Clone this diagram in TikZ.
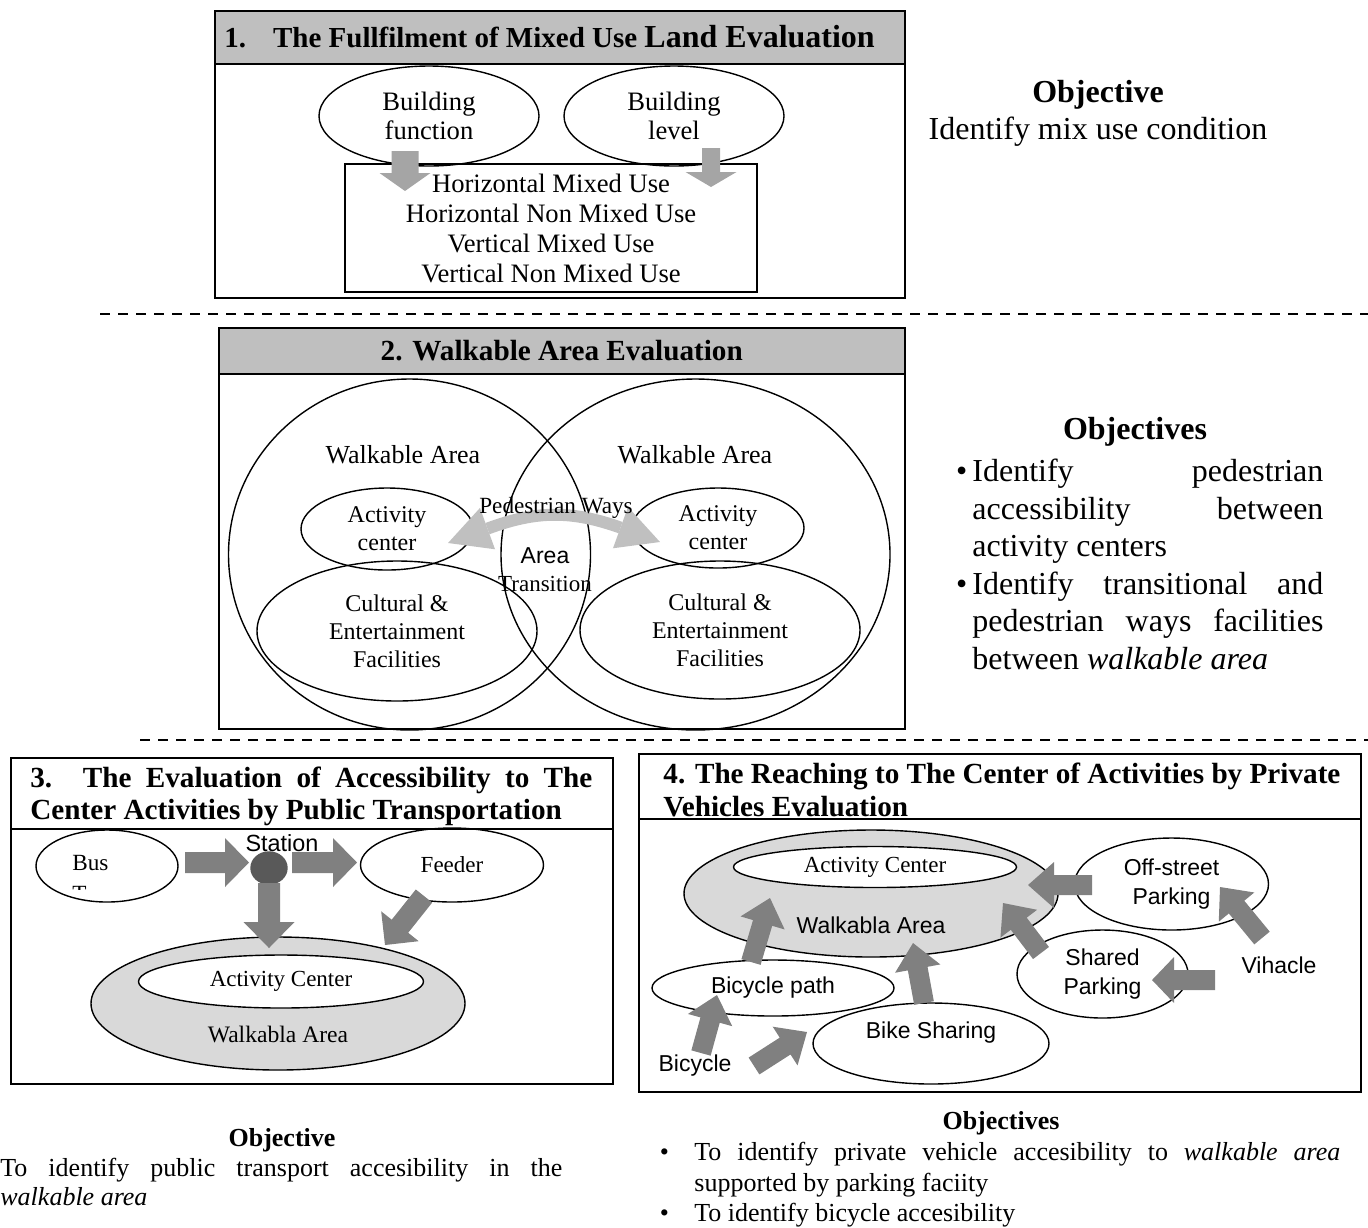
\documentclass[tikz,border=0pt]{standalone}
\usepackage{fontspec}
\setmainfont{Liberation Serif}
\setsansfont{Liberation Sans}
\usetikzlibrary{shapes.geometric,calc}
\definecolor{hdrgray}{RGB}{191,191,191}
\definecolor{arrlight}{RGB}{165,165,165}
\definecolor{arrpale}{RGB}{192,192,192}
\definecolor{arrdark}{RGB}{128,128,128}
\definecolor{stationgray}{RGB}{89,89,89}
\definecolor{areagray}{RGB}{217,217,217}
\newcommand{\fsz}[2]{\fontsize{#1}{#2}\selectfont}
% block arrow: tail, tip, half shaft, half head, head length, colour
\newcommand{\blockarr}[6]{%
  \coordinate (ba-base) at ($(#2)!#5!(#1)$);
  \fill[#6] ($(#1)!#3!90:(#2)$) -- ($(ba-base)!#3!90:(#2)$) -- ($(ba-base)!#4!90:(#2)$) -- (#2) -- ($(ba-base)!#4!-90:(#2)$) -- ($(ba-base)!#3!-90:(#2)$) -- ($(#1)!#3!-90:(#2)$) -- cycle;}
% head triangle: base centre, tip, half width, colour
\newcommand{\headtri}[4]{%
  \fill[#4] ($(#1)!#3!90:(#2)$) -- (#2) -- ($(#1)!#3!-90:(#2)$) -- cycle;}
\begin{document}
\begin{tikzpicture}[x=0.5pt,y=-0.5pt,
  box/.style={draw, line width=0.75pt, rectangle, inner sep=0},
  hdr/.style={draw, line width=0.75pt, rectangle, inner sep=0, fill=hdrgray},
  ell/.style={draw, line width=0.7pt, ellipse, inner sep=0},
  txt/.style={inner sep=0, align=center},
  sepline/.style={line width=0.6pt, dash pattern=on 5pt off 4pt}]

\useasboundingbox (0,0) rectangle (1368,1227);

% ---------------- Section 1
\node[box, anchor=north west, minimum width=345pt, minimum height=143.5pt] (box1) at (214,10) {};
\node[hdr, anchor=north west, minimum width=345pt, minimum height=26.5pt] (hdr1) at (214,10) {};
\node[txt, anchor=west, font=\bfseries\fsz{14.5}{16}] (ttl1) at (224,37) {1.\hspace{13.5pt}The Fullfilment of Mixed Use {\fsz{16}{16}Land Evaluation}};
\node[ell, minimum width=110pt, minimum height=50pt, align=center, font=\fsz{13.3}{14.5}] (bf) at (429,116) {Building\\function};
\node[ell, minimum width=110pt, minimum height=50pt, align=center, font=\fsz{13.3}{14.5}] (bl) at (674,116) {Building\\level};
\node[box, minimum width=206pt, minimum height=64pt, align=center, font=\fsz{13.3}{15}] (types) at (551,228) {Horizontal Mixed Use\\Horizontal Non Mixed Use\\Vertical Mixed Use\\Vertical Non Mixed Use};
\coordinate (a1s) at (405,151); \coordinate (a1e) at (405,191);
\coordinate (a2s) at (711,148); \coordinate (a2e) at (711,187);
\blockarr{a1s}{a1e}{6.75pt}{12.75pt}{9pt}{arrlight}
\blockarr{a2s}{a2e}{4.5pt}{12.75pt}{7.5pt}{arrlight}
\node[txt, font=\fsz{16}{18.5}] (obj1) at (1098,113) {\textbf{Objective}\\Identify mix use condition};

\draw[sepline] (100,314) -- (1368,314);

% ---------------- Section 2
\node[box, anchor=north west, minimum width=343pt, minimum height=200.5pt] (box2) at (218,327) {};
\node[hdr, anchor=north west, minimum width=343pt, minimum height=23pt, font=\bfseries\fsz{14.6}{16}] (hdr2) at (218,327) {2. Walkable Area Evaluation};
\node[ell, minimum width=181pt, minimum height=175.5pt] (wl) at (409.5,554.5) {};
\node[ell, minimum width=194.5pt, minimum height=175.5pt] (wr) at (695.5,554.5) {};
\node[txt, font=\fsz{13}{15}] (wlt) at (403,455) {Walkable Area};
\node[txt, font=\fsz{13}{15}] (wrt) at (695,455) {Walkable Area};
\node[ell, minimum width=86pt, minimum height=41pt, align=center, font=\fsz{12}{14}] (acl) at (387,529) {Activity\\center};
\node[ell, minimum width=86pt, minimum height=40pt, align=center, font=\fsz{12}{14}] (acr) at (718,528) {Activity\\center};
\node[ell, minimum width=140pt, minimum height=70pt, align=center, font=\fsz{12}{14}] (cul) at (397,631) {Cultural \&\\Entertainment\\Facilities};
\node[ell, minimum width=140pt, minimum height=69pt, align=center, font=\fsz{12}{14}] (cur) at (720,630) {Cultural \&\\Entertainment\\Facilities};
\coordinate (pedl) at (487.5,528.6); \coordinate (pedtl) at (448,543);
\coordinate (pedr) at (620.5,527.6); \coordinate (pedtr) at (660,542);
\draw[arrpale, line width=6pt] (pedl) to[bend left=20] (pedr);
\headtri{pedl}{pedtl}{11pt}{arrpale}
\headtri{pedr}{pedtr}{11pt}{arrpale}
\node[txt, font=\fsz{11.6}{14}] (ped) at (556,508) {Pedestrian Ways};
\node[txt, font=\sffamily\fsz{11.5}{14}] (areat) at (545,556) {Area};
\node[txt, font=\fsz{11.5}{14}] (trans) at (545,584) {Transition};
\node[txt, font=\bfseries\fsz{16}{18}] (obj2h) at (1135,432) {Objectives};
\node[txt, anchor=north west, align=left, font=\fsz{16}{18.75}] (obj2) at (972,459) {%
\llap{\textbullet\hspace{2.5pt}}\makebox[175.5pt][s]{Identify pedestrian}\\
\makebox[175.5pt][s]{accessibility between}\\
activity centers\\
\llap{\textbullet\hspace{2.5pt}}\makebox[175.5pt][s]{Identify transitional and}\\
\makebox[175.5pt][s]{pedestrian ways facilities}\\
between \textit{walkable area}};

\draw[sepline] (140,740) -- (1368,740);

% ---------------- Section 3
\node[box, anchor=north west, minimum width=301pt, minimum height=163pt] (box3) at (10,757) {};
\node[box, anchor=north west, minimum width=301pt, minimum height=35.5pt] (hdr3) at (10,757) {};
\node[txt, anchor=north west, align=left, font=\bfseries\fsz{14.6}{16}] (ttl3) at (30,767) {\makebox[281pt][s]{3. The Evaluation of Accessibility to The}\\Center Activities by Public Transportation};
\node[ell, minimum width=71pt, minimum height=36pt] (bus) at (107,866) {};
\node[txt, anchor=west, font=\fsz{11.6}{14}] (bustxt) at (72,863) {Bus};
\begin{scope}
\clip (60,880) rectangle (120,889);
\node[txt, anchor=west, font=\fsz{11.6}{14}] (bustxt2) at (72,893.5) {T};
\end{scope}
\node[ell, fill=stationgray, draw=stationgray, minimum width=18pt, minimum height=16pt] (st) at (269,868) {};
\node[txt, font=\sffamily\fsz{11.7}{14}] (sttxt) at (282,843) {Station};
\node[ell, minimum width=91.5pt, minimum height=37pt, font=\fsz{11.5}{14}] (feeder) at (452,865) {Feeder};
\node[ell, fill=areagray, minimum width=187pt, minimum height=66.5pt] (wa3) at (278,1003.5) {};
\node[ell, fill=white, minimum width=142.5pt, minimum height=26.5pt, font=\fsz{11.5}{14}] (ac3) at (281,981.5) {Activity Center};
\node[txt, font=\fsz{11.8}{14}] (wa3t) at (278,1034) {Walkabla Area};
\coordinate (b1s) at (185,862.5); \coordinate (b1e) at (249,862.5);
\coordinate (b2s) at (292,862.5); \coordinate (b2e) at (357,862.5);
\coordinate (b3s) at (269,883); \coordinate (b3e) at (269,948);
\coordinate (b4s) at (424,896); \coordinate (b4e) at (385,945);
\blockarr{b1s}{b1e}{5.25pt}{12.25pt}{12pt}{arrdark}
\blockarr{b2s}{b2e}{5.25pt}{12.25pt}{12pt}{arrdark}
\blockarr{b3s}{b3e}{5.5pt}{12.75pt}{13pt}{arrdark}
\blockarr{b4s}{b4e}{5.25pt}{12pt}{12pt}{arrdark}
\node[txt, font=\bfseries\fsz{13}{15}] (obj3h) at (282,1140) {Objective};
\node[txt, anchor=north west, align=left, font=\fsz{13}{14.5}] (obj3) at (0,1158) {\makebox[281pt][s]{To identify public transport accesibility in the}\\\textit{walkable area}};

% ---------------- Section 4
\node[box, anchor=north west, minimum width=361pt, minimum height=169pt] (box4) at (638,753) {};
\node[box, anchor=north west, minimum width=361pt, minimum height=32.5pt] (hdr4) at (638,753) {};
\node[txt, anchor=north west, align=left, font=\bfseries\fsz{14.6}{16.5}] (ttl4) at (663,763) {\makebox[338.5pt][s]{4. The Reaching to The Center of Activities by Private}\\Vehicles Evaluation};
\node[ell, fill=areagray, minimum width=187pt, minimum height=63.5pt] (wa4) at (871,893.5) {};
\node[ell, fill=white, minimum width=141.5pt, minimum height=20.5pt, font=\fsz{11.5}{14}] (ac4) at (875,867) {Activity Center};
\node[txt, font=\sffamily\fsz{11.5}{14}] (wa4t) at (871,925) {Walkabla Area};
\node[ell, minimum width=97pt, minimum height=46pt, align=center, font=\sffamily\fsz{11.5}{14.5}] (os) at (1171.5,884) {Off-street\\Parking};
\node[ell, minimum width=85.5pt, minimum height=44pt, align=center, font=\sffamily\fsz{11.5}{14.5}] (sp) at (1102.5,974) {Shared\\Parking};
\node[ell, minimum width=121pt, minimum height=28pt, font=\sffamily\fsz{11.5}{14}] (bp) at (773,988) {Bicycle path};
\node[ell, minimum width=118pt, minimum height=40.5pt] (bs) at (931,1043.5) {};
\node[txt, font=\sffamily\fsz{11.5}{14}] (bst) at (931,1033) {Bike Sharing};
\node[txt, font=\sffamily\fsz{11.5}{14}] (vih) at (1279,965) {Vihacle};
\node[txt, font=\sffamily\fsz{11.5}{14}] (bic) at (695,1066) {Bicycle};
\coordinate (c1s) at (751,962); \coordinate (c1e) at (770,898);
\coordinate (c2s) at (924,1003); \coordinate (c2e) at (913,943);
\coordinate (c3s) at (701,1053); \coordinate (c3e) at (717,995);
\coordinate (c4s) at (754,1066); \coordinate (c4e) at (807,1032);
\coordinate (c5s) at (1092,885); \coordinate (c5e) at (1028,885);
\coordinate (c6s) at (1041,953); \coordinate (c6e) at (1003,903);
\coordinate (c7s) at (1262,938); \coordinate (c7e) at (1220,887);
\coordinate (c8s) at (1215,980); \coordinate (c8e) at (1152,980);
\blockarr{c1s}{c1e}{5pt}{11.5pt}{13pt}{arrdark}
\blockarr{c2s}{c2e}{5pt}{11.5pt}{13pt}{arrdark}
\blockarr{c3s}{c3e}{5pt}{11.5pt}{13pt}{arrdark}
\blockarr{c4s}{c4e}{5pt}{11.5pt}{13pt}{arrdark}
\blockarr{c5s}{c5e}{5pt}{11.5pt}{13pt}{arrdark}
\blockarr{c6s}{c6e}{5pt}{11.5pt}{13pt}{arrdark}
\blockarr{c7s}{c7e}{5pt}{11.5pt}{13pt}{arrdark}
\blockarr{c8s}{c8e}{5pt}{11.5pt}{11pt}{arrdark}
\node[txt, font=\bfseries\fsz{13}{15}] (obj4h) at (1001,1123) {Objectives};
\node[txt, anchor=north west, align=left, font=\fsz{13}{15.25}] (obj4) at (694,1142) {%
\llap{\textbullet\hspace{12.75pt}}\makebox[323pt][s]{To identify private vehicle accesibility to \textit{walkable area}}\\
supported by parking faciity\\
\llap{\textbullet\hspace{12.75pt}}To identify bicycle accesibility};

\end{tikzpicture}
\end{document}
